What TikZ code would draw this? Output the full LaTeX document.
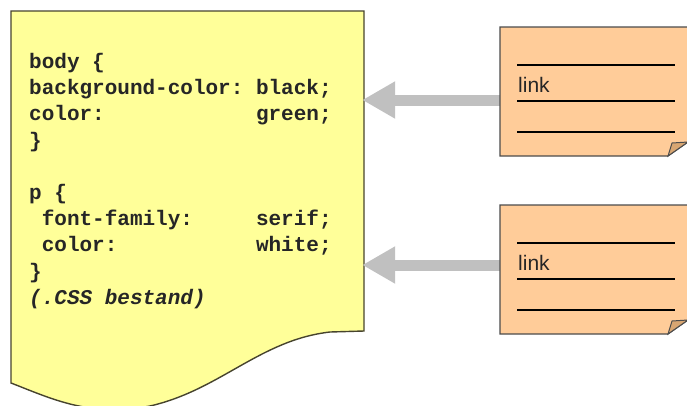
\documentclass[tikz,border=0pt]{standalone}
\usepackage{fontspec}
\setmonofont{Liberation Mono}
\setsansfont{Liberation Sans}
\usetikzlibrary{arrows.meta, positioning}
\definecolor{docyellow}{HTML}{FFFF99}
\definecolor{notepeach}{HTML}{FFCC99}
\definecolor{foldpeach}{HTML}{D8A672}
\definecolor{arrowgray}{HTML}{C0C0C0}

\begin{document}
\begin{tikzpicture}[x=1pt, y=-1pt,
    docpage/.style={fill=docyellow, draw=black!65!olive, line width=1.4pt},
    notepage/.style={fill=notepeach, draw=black!70, line width=1.2pt},
    code/.style={font=\ttfamily\bfseries\fontsize{21}{26.2}\selectfont, text=black!85, align=left, inner sep=0pt},
    linktext/.style={font=\sffamily\fontsize{21}{24}\selectfont, text=black!85, inner sep=0pt, anchor=base west},
    bigarrow/.style={line width=11pt, arrowgray, -{Triangle[length=33pt,width=35pt]}, shorten >=-2pt}]
  \useasboundingbox (0,0) rectangle (687,405);

  % css file
  \draw[docpage] (11,11) -- (364,11) -- (364,331) -- (330,332)
    .. controls (260,340) and (220,390) .. (150,406)
    .. controls (90,418) and (50,398) .. (11,383) -- cycle;
  \node[minimum width=353pt, minimum height=320pt, inner sep=0pt] (css) at (187.5,171) {};
  \node[code, anchor=north west] (csstext) at (29,53) {%
    body \{\\
    background-color: black;\\
    color:\phantom{000000000000}green;\\
    \}\\[26.2pt]
    p \{\\
    \phantom{0}font-family:\phantom{00000}serif;\\
    \phantom{0}color:\phantom{00000000000}white;\\
    \}\\
    {\itshape(.CSS bestand)}};

  % html pages with links
  \foreach \t/\a/\n in {27/100/1, 205/265/2} {
    \coordinate (tail\n) at (500,\a);
    \draw[bigarrow] (tail\n) -- (css.east |- tail\n);
    \draw[notepage] (500,\t) -- (688,\t) -- (688,\t+115) -- (668,\t+129) -- (500,\t+129) -- cycle;
    \draw[fill=foldpeach, draw=black!70, line width=1pt] (668,\t+129) -- (672,\t+116) -- (688,\t+115) -- cycle;
    \foreach \l in {38,74,105}
      \draw[line width=1.2pt] (517,\t+\l) -- (675,\t+\l);
    \node[linktext] (link\n) at (518,\t+65) {link};
  }
\end{tikzpicture}
\end{document}
